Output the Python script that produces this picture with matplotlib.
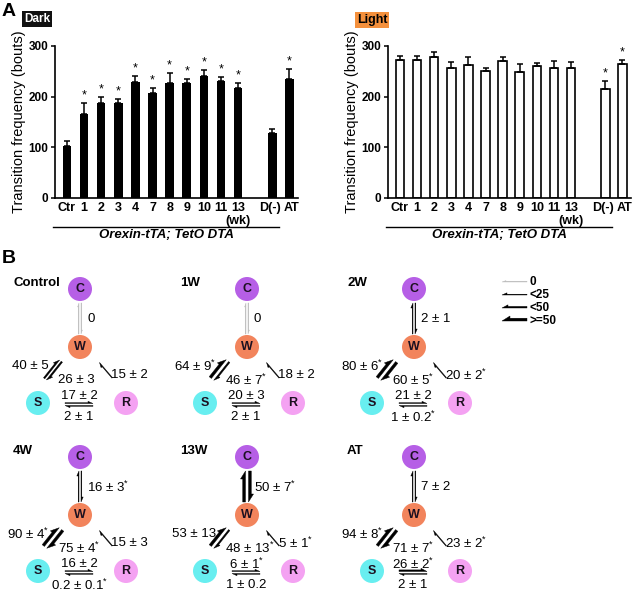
import numpy as np
import matplotlib
matplotlib.use('Agg')
import matplotlib.pyplot as plt
from matplotlib.patches import Circle, Polygon
from matplotlib.transforms import blended_transform_factory

plt.rcParams['font.family'] = ['Liberation Sans', 'DejaVu Sans']
plt.rcParams['mathtext.fontset'] = 'custom'
plt.rcParams['mathtext.rm'] = 'Liberation Sans'
plt.rcParams['mathtext.it'] = 'Liberation Sans:italic'
plt.rcParams['mathtext.bf'] = 'Liberation Sans:bold'

# ---- panel A data (transition frequency, bouts) ----
groups = ['Ctr', '1', '2', '3', '4', '7', '8', '9', '10', '11', '13', 'D(-)', 'AT']
dark_mean = [103, 165, 188, 188, 229, 208, 226, 226, 241, 231, 218, 129, 234]
dark_sem = [10, 22, 12, 8, 11, 10, 20, 8, 12, 7, 9, 8, 21]
dark_sig = [0, 1, 1, 1, 1, 1, 1, 1, 1, 1, 1, 0, 1]
light_mean = [273, 273, 278, 256, 263, 251, 271, 248, 261, 257, 257, 215, 265]
light_sem = [8, 8, 11, 13, 15, 6, 7, 17, 6, 14, 11, 16, 8]
light_sig = [0, 0, 0, 0, 0, 0, 0, 0, 0, 0, 0, 1, 1]
yticks = [0, 100, 200, 300]

# ---- panel B data (state transitions) ----
diagrams = ['Control', '1W', '2W', '4W', '13W', 'AT']
cw_val = [0, 0, 2, 16, 50, 7]
cw_txt = ['0', '0', '2 ± 1', '16 ± 3*', '50 ± 7*', '7 ± 2']
sw_val = [40, 64, 80, 90, 53, 94]
sw_txt = ['40 ± 5', '64 ± 9*', '80 ± 6*', '90 ± 4*', '53 ± 13', '94 ± 8*']
ws_val = [26, 46, 60, 75, 48, 71]
ws_txt = ['26 ± 3', '46 ± 7*', '60 ± 5*', '75 ± 4*', '48 ± 13*', '71 ± 7*']
rw_val = [15, 18, 20, 15, 5, 23]
rw_txt = ['15 ± 2', '18 ± 2', '20 ± 2*', '15 ± 3', '5 ± 1*', '23 ± 2*']
sr_val = [17, 20, 21, 16, 6, 26]
sr_txt = ['17 ± 2', '20 ± 3', '21 ± 2', '16 ± 2', '6 ± 1*', '26 ± 2*']
rs_val = [2, 2, 1, 0.2, 1, 2]
rs_txt = ['2 ± 1', '2 ± 1', '1 ± 0.2*', '0.2 ± 0.1*', '1 ± 0.2', '2 ± 1']
legend_txt = ['0', '<25', '<50', '>=50']
legend_val = [0, 24, 49, 50]

node_col = {'C': '#b65fe6', 'W': '#f2845c', 'S': '#68eef0', 'R': '#f4a2f2'}


def sup(s):
    return s.replace('*', r'$^{*}$')


fig = plt.figure(figsize=(6.4, 5.93), dpi=100)

# full-figure pixel axes for panel B and labels
axb = fig.add_axes([0, 0, 1, 1])
axb.set_xlim(0, 640)
axb.set_ylim(593, 0)
axb.axis('off')

W, H = 640.0, 593.0
x = np.arange(len(groups)) + (np.arange(len(groups)) >= 11)


def bar_panel(left, mean, sem, sig, filled):
    ax = fig.add_axes([left / W, 1 - 198 / H, 243 / W, 152 / H])
    if filled:
        ax.bar(x, mean, width=0.5, color='black', zorder=2)
    else:
        ax.bar(x, mean, width=0.5, color='white', edgecolor='black', lw=1.2, zorder=2)
    ax.errorbar(x, mean, yerr=[np.zeros(len(sem)), sem], fmt='none', ecolor='black',
                elinewidth=1.1, capsize=2.5, capthick=1.1, zorder=3)
    for xi, m, e, s in zip(x, mean, sem, sig):
        if s:
            ax.text(xi, m + e + 3, '*', ha='center', va='bottom', fontsize=9)
    ax.set_xlim(-0.7, 13.5)
    ax.set_ylim(0, 300)
    ax.set_yticks(yticks)
    ax.set_yticklabels([str(t) for t in yticks], fontsize=8.5, fontweight='bold')
    ax.set_xticks(x)
    ax.set_xticklabels([])
    ax.tick_params(axis='x', length=0)
    ax.tick_params(axis='y', length=3, width=1.1, pad=2)
    for sp in ['top', 'right']:
        ax.spines[sp].set_visible(False)
    for sp in ['left', 'bottom']:
        ax.spines[sp].set_linewidth(1.2)
    ax.set_ylabel('Transition frequency (bouts)', fontsize=10.5)
    ax.yaxis.set_label_coords(-0.12, 0.5)
    tr = blended_transform_factory(ax.transData, ax.transAxes)
    # category labels, the last two nudged apart a little
    for xi, g in zip(x, groups):
        dx = {'D(-)': -1.8, 'AT': 1.2}.get(g, 0)
        ax.annotate(g, xy=(xi, 0), xycoords=tr, xytext=(dx, -3), textcoords='offset points',
                    ha='center', va='top', fontsize=9, fontweight='bold')
    ax.text(x[10], -0.15, '(wk)', transform=tr, ha='center', va='center',
            fontsize=9, fontweight='bold')
    ax.plot([-0.8, 12.4], [-0.191, -0.191], color='black', lw=1, transform=tr, clip_on=False)
    ax.text(5.8, -0.245, 'Orexin-tTA; TetO DTA', transform=tr, ha='center', va='center',
            style='italic', fontweight='bold', fontsize=9.5)
    return ax


bar_panel(55, dark_mean, dark_sem, dark_sig, True)
bar_panel(388, light_mean, light_sem, light_sig, False)

axb.text(2, 3, 'A', fontsize=14, fontweight='bold', ha='left', va='top')
axb.text(2, 250, 'B', fontsize=14, fontweight='bold', ha='left', va='top')
axb.text(24, 19, 'Dark', fontsize=8.5, fontweight='bold', color='white', ha='left', va='center',
         bbox=dict(boxstyle='square,pad=0.15', fc='#111111', ec='none'))
axb.text(357, 20, 'Light', fontsize=9, fontweight='bold', color='black', ha='left', va='center',
         bbox=dict(boxstyle='square,pad=0.15', fc='#f4903c', ec='none'))


def arrow_style(v):
    if v == 0:
        return 0.8, 4, 1.4, '#bdbdbd'
    if v < 25:
        return 0.8, 5, 2.2, 'black'
    if v < 50:
        return 1.6, 6, 3.2, 'black'
    return 2.8, 8, 5.0, 'black'


def harpoon(p0, p1, v, off=0.0, side=1):
    p0 = np.asarray(p0, float)
    p1 = np.asarray(p1, float)
    u = (p1 - p0) / np.hypot(*(p1 - p0))
    lft = np.array([u[1], -u[0]]) * side
    lw, hl, hw, col = arrow_style(v)
    a = p0 + lft * off
    b = p1 + lft * off
    pts = [a, b, b - u * hl + lft * hw, b - u * hl + lft * lw, a + lft * lw]
    axb.add_patch(Polygon(pts, closed=True, fc=col, ec=col, lw=0.3, zorder=3))


def pair(a, b, v_ab, v_ba):
    gap = 1.5 if max(v_ab, v_ba) >= 50 else 1.0
    harpoon(a, b, v_ab, gap)
    harpoon(b, a, v_ba, gap)


col_x = [80, 247, 414]
row_y = [289, 457]
fs = 9.5
for i, name in enumerate(diagrams):
    cx = col_x[i % 3]
    cy = row_y[i // 3]
    wx, wy = cx, cy + 58
    sx, sy = cx - 42, cy + 114
    rx, ry = cx + 46, cy + 114
    axb.text(cx - 67, cy - 6, name, fontsize=9.5, fontweight='bold', ha='left', va='center')
    for lab, (px, py) in zip('CWSR', [(cx, cy), (wx, wy), (sx, sy), (rx, ry)]):
        axb.add_patch(Circle((px, py), 12, fc=node_col[lab], ec='none', zorder=2))
        axb.text(px, py + 0.5, lab, fontsize=9, fontweight='bold', ha='center', va='center',
                 color='#1c1020', zorder=4)
    # C <-> W
    pair((wx, wy - 13), (cx, cy + 14), cw_val[i], cw_val[i])
    axb.text(wx + 7, (cy + wy) / 2 + 1, sup(cw_txt[i]), fontsize=fs, ha='left', va='center')
    # S <-> W
    u = np.array([-0.62, 0.78])
    c = np.array([wx - 27, wy + 23])
    pair(c + u * 12, c - u * 12, sw_val[i], ws_val[i])
    axb.text(wx - 31, wy + 19, sup(sw_txt[i]), fontsize=fs, ha='right', va='center')
    axb.text(wx - 22, wy + 33, sup(ws_txt[i]), fontsize=fs, ha='left', va='center')
    # R -> W
    u = np.array([0.65, 0.76])
    c = np.array([wx + 26, wy + 23])
    harpoon(c + u * 10, c - u * 10, rw_val[i])
    axb.text(wx + 31, wy + 28, sup(rw_txt[i]), fontsize=fs, ha='left', va='center')
    # S <-> R
    pair((wx - 15, sy + 1.5), (wx + 13, sy + 1.5), sr_val[i], rs_val[i])
    axb.text(wx - 1, sy - 7, sup(sr_txt[i]), fontsize=fs, ha='center', va='center')
    axb.text(wx - 1, sy + 14, sup(rs_txt[i]), fontsize=fs, ha='center', va='center')

# line thickness key
for j, (t, v) in enumerate(zip(legend_txt, legend_val)):
    yy = [282, 295, 308, 321][j]
    harpoon((527, yy), (502, yy), v, side=-1)
    axb.text(530, yy, t, fontsize=8.5, fontweight='bold', ha='left', va='center')

fig.savefig('out.png', dpi=100)
